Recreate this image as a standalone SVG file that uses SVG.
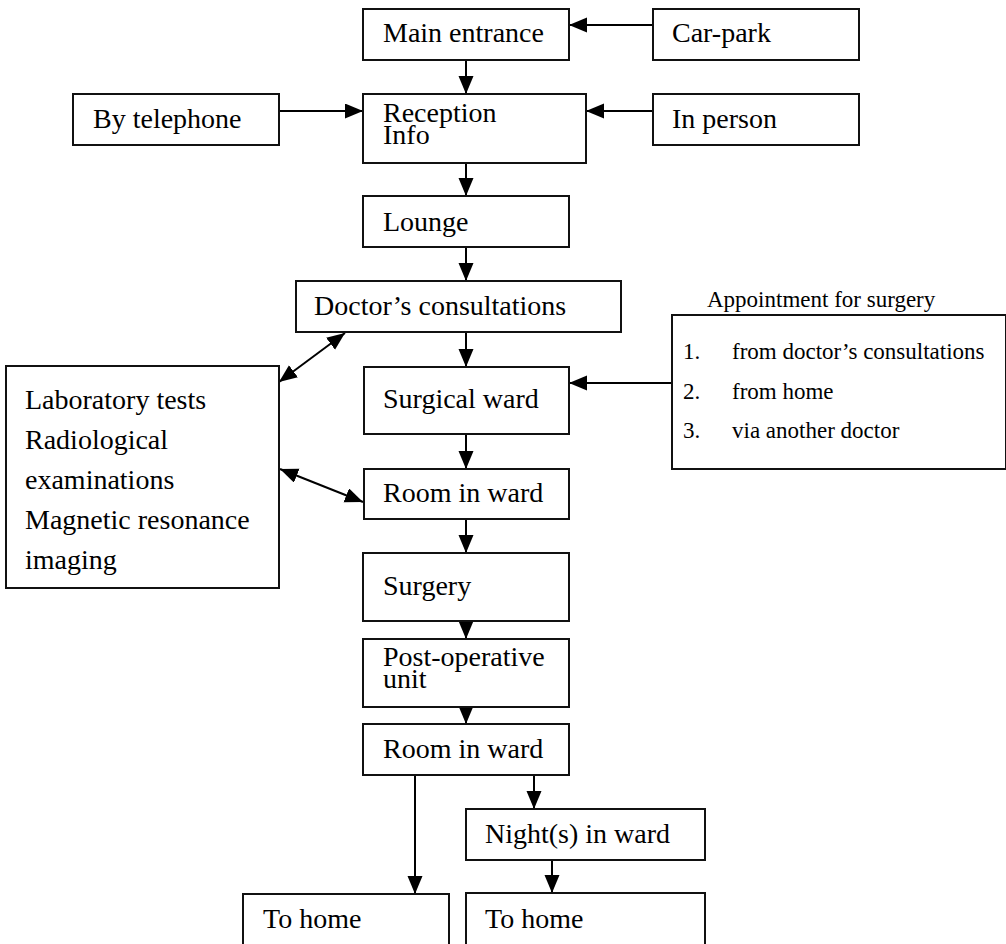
<svg xmlns="http://www.w3.org/2000/svg" width="1006" height="944" viewBox="0 0 1006 944">
<style>
.box{fill:#fff;stroke:#111;stroke-width:2}
.t{font-family:"Liberation Serif","Times New Roman",serif;font-size:28px;fill:#000}
.s{font-family:"Liberation Serif","Times New Roman",serif;font-size:23px;fill:#000}
.c{stroke:#000;stroke-width:2;fill:none}
</style>
<defs>
<marker id="ah" markerUnits="userSpaceOnUse" markerWidth="19" markerHeight="16" refX="18" refY="7.5" orient="auto-start-reverse" viewBox="0 0 19 16">
<path d="M0,0 L18,7.5 L0,15 z" fill="#000"/>
</marker>
</defs>
<rect width="1006" height="944" fill="#fff"/>
<g id="connectors">
<line class="c" x1="653" y1="25" x2="569" y2="25" marker-end="url(#ah)"/>
<line class="c" x1="466" y1="60" x2="466" y2="94" marker-end="url(#ah)"/>
<line class="c" x1="279" y1="111" x2="363" y2="111" marker-end="url(#ah)"/>
<line class="c" x1="653" y1="111" x2="586" y2="111" marker-end="url(#ah)"/>
<line class="c" x1="466" y1="163" x2="466" y2="196" marker-end="url(#ah)"/>
<line class="c" x1="466" y1="247" x2="466" y2="281" marker-end="url(#ah)"/>
<line class="c" x1="466" y1="332" x2="466" y2="367" marker-end="url(#ah)"/>
<line class="c" x1="672" y1="383" x2="569" y2="383" marker-end="url(#ah)"/>
<line class="c" x1="466" y1="434" x2="466" y2="469" marker-end="url(#ah)"/>
<line class="c" x1="466" y1="519" x2="466" y2="553" marker-end="url(#ah)"/>
<line class="c" x1="466" y1="621" x2="466" y2="639" marker-end="url(#ah)"/>
<line class="c" x1="466" y1="707" x2="466" y2="724" marker-end="url(#ah)"/>
<line class="c" x1="415" y1="775" x2="415" y2="894" marker-end="url(#ah)"/>
<line class="c" x1="534" y1="775" x2="534" y2="809" marker-end="url(#ah)"/>
<line class="c" x1="552" y1="860" x2="552" y2="893" marker-end="url(#ah)"/>
<line class="c" x1="279" y1="382" x2="345" y2="333" marker-start="url(#ah)" marker-end="url(#ah)"/>
<line class="c" x1="280" y1="469" x2="363" y2="502" marker-start="url(#ah)" marker-end="url(#ah)"/>
</g>
<g id="main-entrance"><rect class="box" x="363" y="9" width="206" height="51"/><text class="t" x="383" y="42">Main entrance</text></g>
<g id="car-park"><rect class="box" x="653" y="9" width="206" height="51"/><text class="t" x="672" y="42">Car-park</text></g>
<g id="by-telephone"><rect class="box" x="73" y="94" width="206" height="51"/><text class="t" x="93" y="128">By telephone</text></g>
<g id="reception"><rect class="box" x="363" y="94" width="223" height="69"/><text class="t" x="383" y="122">Reception</text><text class="t" x="383" y="144">Info</text></g>
<g id="in-person"><rect class="box" x="653" y="94" width="206" height="51"/><text class="t" x="672" y="128">In person</text></g>
<g id="lounge"><rect class="box" x="363" y="196" width="206" height="51"/><text class="t" x="383" y="231">Lounge</text></g>
<g id="doctors"><rect class="box" x="296" y="281" width="325" height="51"/><text class="t" x="314" y="315">Doctor’s consultations</text></g>
<g id="appointment"><text class="s" x="707" y="307">Appointment for surgery</text><rect class="box" x="672" y="315" width="334" height="154"/><text class="s" x="683" y="359">1.</text><text class="s" x="732" y="359">from doctor’s consultations</text><text class="s" x="683" y="399">2.</text><text class="s" x="732" y="399">from home</text><text class="s" x="683" y="438">3.</text><text class="s" x="732" y="438">via another doctor</text></g>
<g id="tests"><rect class="box" x="6" y="366" width="273" height="222"/><text class="t" x="25" y="409">Laboratory tests</text><text class="t" x="25" y="449">Radiological</text><text class="t" x="25" y="489">examinations</text><text class="t" x="25" y="529">Magnetic resonance</text><text class="t" x="25" y="569">imaging</text></g>
<g id="surgical-ward"><rect class="box" x="364" y="367" width="205" height="67"/><text class="t" x="383" y="408">Surgical ward</text></g>
<g id="room-in-ward-1"><rect class="box" x="364" y="469" width="205" height="50"/><text class="t" x="383" y="502">Room in ward</text></g>
<g id="surgery"><rect class="box" x="363" y="553" width="206" height="68"/><text class="t" x="383" y="595">Surgery</text></g>
<g id="post-op"><rect class="box" x="363" y="639" width="206" height="68"/><text class="t" x="383" y="666">Post-operative</text><text class="t" x="383" y="688">unit</text></g>
<g id="room-in-ward-2"><rect class="box" x="363" y="724" width="206" height="51"/><text class="t" x="383" y="758">Room in ward</text></g>
<g id="nights"><rect class="box" x="466" y="809" width="239" height="51"/><text class="t" x="485" y="843">Night(s) in ward</text></g>
<g id="to-home-1"><rect class="box" x="243" y="894" width="206" height="60"/><text class="t" x="263" y="928">To home</text></g>
<g id="to-home-2"><rect class="box" x="466" y="893" width="239" height="61"/><text class="t" x="485" y="928">To home</text></g>
</svg>
